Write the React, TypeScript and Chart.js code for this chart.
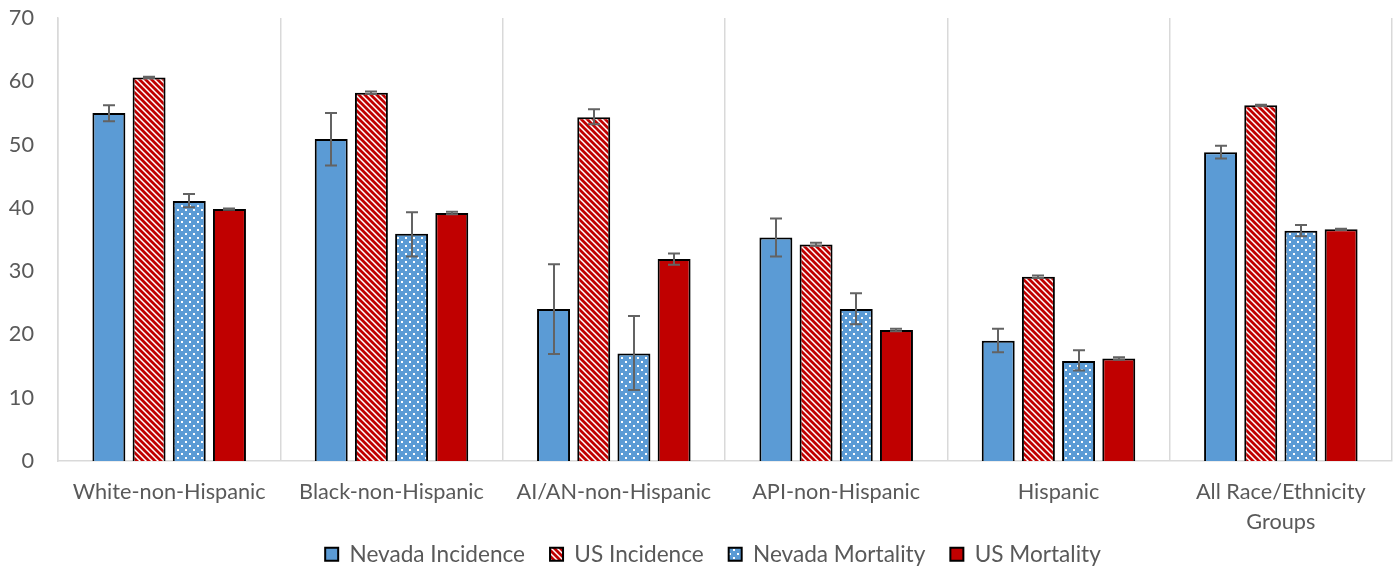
import React, { useEffect, useRef } from "react";
import { Chart, registerables } from "chart.js";

Chart.register(...registerables);

const categories: (string | string[])[] = [
  "White-non-Hispanic",
  "Black-non-Hispanic",
  "AI/AN-non-Hispanic",
  "API-non-Hispanic",
  "Hispanic",
  ["All Race/Ethnicity", "Groups"],
];

const nvIncidence = [55.0, 50.9, 24.0, 35.3, 19.0, 48.8];
const nvIncidenceLow = [53.7, 46.7, 16.9, 32.3, 17.2, 47.8];
const nvIncidenceHigh = [56.2, 55.0, 31.1, 38.3, 20.9, 49.8];

const usIncidence = [60.6, 58.2, 54.3, 34.2, 29.1, 56.2];
const usIncidenceLow = [60.5, 58.0, 53.2, 34.0, 28.9, 56.1];
const usIncidenceHigh = [60.7, 58.4, 55.6, 34.5, 29.3, 56.3];

const nvMortality = [41.1, 35.9, 17.0, 24.0, 15.8, 36.4];
const nvMortalityLow = [40.1, 32.3, 11.2, 21.6, 14.3, 35.5];
const nvMortalityHigh = [42.2, 39.3, 22.9, 26.5, 17.5, 37.3];

const usMortality = [39.8, 39.2, 31.9, 20.7, 16.2, 36.6];
const usMortalityLow = [39.7, 39.0, 31.0, 20.5, 16.0, 36.5];
const usMortalityHigh = [39.9, 39.4, 32.8, 20.9, 16.4, 36.7];

const yTicks = [0, 10, 20, 30, 40, 50, 60, 70];

function makeStripes(): CanvasPattern | string {
  const c = document.createElement("canvas");
  const s = 6;
  c.width = s;
  c.height = s;
  const ctx = c.getContext("2d");
  if (!ctx) return "#c00000";
  ctx.fillStyle = "#ffffff";
  ctx.fillRect(0, 0, s, s);
  ctx.strokeStyle = "#c00000";
  ctx.lineWidth = 2.8;
  ctx.beginPath();
  for (let k = -1; k <= 1; k++) {
    ctx.moveTo(k * s - 1, -1);
    ctx.lineTo(k * s + s + 1, s + 1);
  }
  ctx.stroke();
  return ctx.createPattern(c, "repeat") || "#c00000";
}

function makeDots(): CanvasPattern | string {
  const c = document.createElement("canvas");
  const s = 8;
  c.width = s;
  c.height = s;
  const ctx = c.getContext("2d");
  if (!ctx) return "#5b9bd5";
  ctx.fillStyle = "#5b9bd5";
  ctx.fillRect(0, 0, s, s);
  ctx.fillStyle = "#ffffff";
  ctx.fillRect(1, 1, 2, 2);
  ctx.fillRect(5, 5, 2, 2);
  return ctx.createPattern(c, "repeat") || "#5b9bd5";
}

const errorLows = [nvIncidenceLow, usIncidenceLow, nvMortalityLow, usMortalityLow];
const errorHighs = [nvIncidenceHigh, usIncidenceHigh, nvMortalityHigh, usMortalityHigh];

const errorBarPlugin = {
  id: "errorBars",
  afterDatasetsDraw(chart: any) {
    const ctx = chart.ctx;
    const yScale = chart.scales.y;
    ctx.save();
    ctx.strokeStyle = "#636363";
    ctx.lineWidth = 2;
    chart.data.datasets.forEach((_ds: any, di: number) => {
      const meta = chart.getDatasetMeta(di);
      meta.data.forEach((bar: any, i: number) => {
        const lo = yScale.getPixelForValue(errorLows[di][i]);
        const hi = yScale.getPixelForValue(errorHighs[di][i]);
        const x = Math.round(bar.x);
        const cap = 6;
        ctx.beginPath();
        ctx.moveTo(x, lo);
        ctx.lineTo(x, hi);
        ctx.moveTo(x - cap, lo);
        ctx.lineTo(x + cap, lo);
        ctx.moveTo(x - cap, hi);
        ctx.lineTo(x + cap, hi);
        ctx.stroke();
      });
    });
    ctx.restore();
  },
};

const legendHeightPlugin = {
  id: "legendHeight",
  beforeLayout(chart: any) {
    const legend = chart.legend;
    if (legend && !legend.__patched) {
      const origFit = legend.fit;
      legend.fit = function (this: any) {
        origFit.call(this);
        this.height = 50;
      };
      legend.__patched = true;
    }
  },
  afterLayout(chart: any) {
    const legend = chart.legend;
    if (legend) {
      legend.left = legend.left + 34;
    }
  },
};

export default function App() {
  const ref = useRef<HTMLCanvasElement>(null);
  useEffect(() => {
    document.body.style.margin = "0";
    const canvas = ref.current;
    if (!canvas) return;
    const font = { family: "Lato, 'Open Sans', sans-serif", size: 21.7 };
    const common = {
      borderColor: "#000000",
      borderWidth: 2,
      categoryPercentage: 0.723,
      barPercentage: 0.82,
    };
    const chart = new Chart(canvas, {
      type: "bar",
      data: {
        labels: categories,
        datasets: [
          { label: "Nevada Incidence", data: nvIncidence, backgroundColor: "#5b9bd5", ...common },
          { label: "US Incidence", data: usIncidence, backgroundColor: makeStripes() as any, ...common },
          { label: "Nevada Mortality", data: nvMortality, backgroundColor: makeDots() as any, ...common },
          { label: "US Mortality", data: usMortality, backgroundColor: "#c00000", ...common },
        ],
      },
      options: {
        animation: false,
        responsive: true,
        maintainAspectRatio: false,
        layout: { padding: { top: 18, right: 6, left: 0, bottom: 0 } },
        plugins: {
          legend: {
            position: "bottom",
            labels: {
              boxWidth: 13,
              boxHeight: 13,
              padding: 25,
              color: "#595959",
              font: { ...font, size: 22.6 },
            },
          },
          tooltip: { enabled: false },
        },
        scales: {
          x: {
            grid: {
              display: true,
              offset: true,
              color: "#d9d9d9",
              lineWidth: 1.5,
              drawTicks: false,
            },
            border: { display: true, color: "#d9d9d9", width: 1.5 },
            ticks: { color: "#595959", font: { ...font, lineHeight: 1.38 }, padding: 16, maxRotation: 0 },
            afterFit(scale: any) {
              scale.height = 57;
              scale._computeLabelArea = () => undefined;
            },
          },
          y: {
            min: 0,
            max: 70,
            afterBuildTicks(scale: any) {
              scale.ticks = yTicks.map((v) => ({ value: v }));
            },
            grid: { display: false, drawTicks: false },
            border: { display: true, color: "#d9d9d9", width: 1.5 },
            ticks: { color: "#595959", font, padding: 24 },
            afterFit(scale: any) {
              scale.width = 58;
              scale.paddingTop = 0;
              scale.paddingBottom = 0;
            },
          },
        },
      },
      plugins: [errorBarPlugin, legendHeightPlugin],
    } as any);
    return () => chart.destroy();
  }, []);
  return (
    <div style={{ width: "1398px", height: "568px", position: "relative" }}>
      <canvas ref={ref} />
    </div>
  );
}
